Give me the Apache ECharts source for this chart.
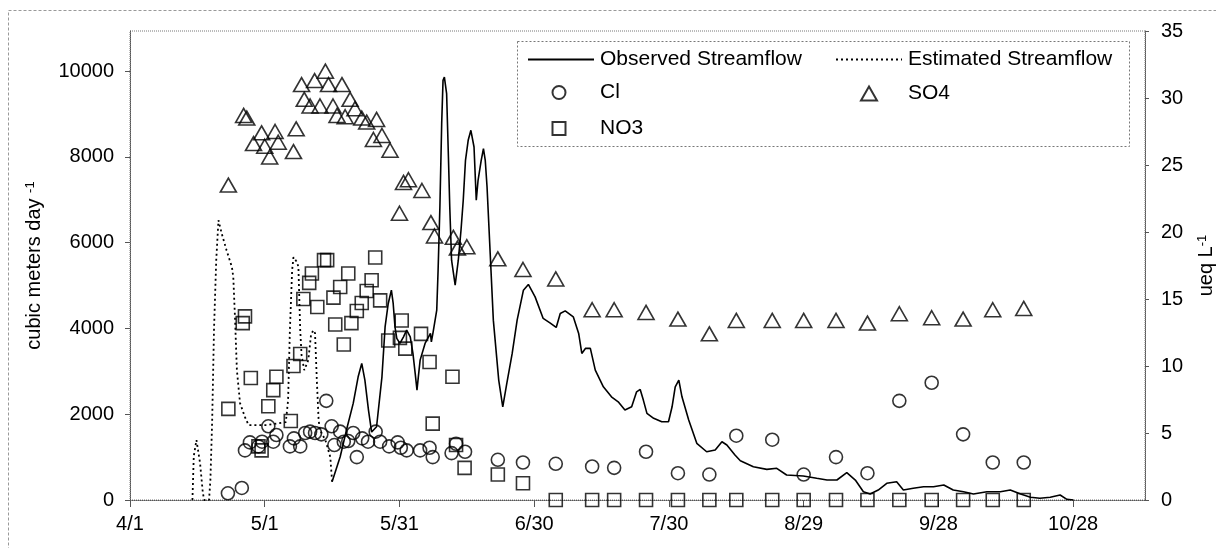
<!DOCTYPE html>
<html>
<head>
    <meta charset="utf-8">
    <title>Streamflow and solute concentrations</title>
    <script src="https://cdn.jsdelivr.net/npm/echarts@6/dist/echarts.min.js"></script>
    <style>
        body { margin: 0; background: #fff; }
        #main { width: 1216px; height: 548px; }
    </style>
</head>
<body>
<div id="main"></div>
<script type="text/javascript">
    // x values are days after 4/1
    var xTickLabels = ['4/1', '5/1', '5/31', '6/30', '7/30', '8/29', '9/28', '10/28'];
    var xTickDays = [0, 30, 60, 90, 120, 150, 180, 210];
    var leftTicks = [0, 2000, 4000, 6000, 8000, 10000];

    // streamflow, cubic meters per day
    var observedFlow = [
        [45.0, 426], [46.8, 1009], [48.2, 1631], [49.7, 2253], [50.8, 2873], [51.6, 3185], [52.3, 2796],
        [53.1, 2097], [53.8, 1584], [54.9, 1708], [56.1, 2873], [56.8, 4038], [57.5, 4583], [58.2, 4893],
        [58.6, 4583], [59.0, 4038], [59.4, 3768], [60.1, 3651], [60.9, 3805], [61.6, 3961], [62.4, 3805],
        [63.0, 3418], [63.5, 2952], [63.9, 2563], [64.2, 2873], [64.6, 3262], [65.7, 3651], [66.9, 3884],
        [67.1, 3688], [67.5, 3921], [68.3, 4427], [68.6, 5359], [69.0, 6834], [69.4, 8777], [69.7, 9786],
        [70.0, 9863], [70.5, 9476], [70.9, 7999], [71.2, 6834], [71.6, 5592], [72.4, 5010], [73.1, 5592],
        [73.7, 6291], [74.2, 6990], [74.7, 7922], [75.3, 8388], [75.9, 8621], [76.6, 8232], [77.1, 6990],
        [77.5, 7456], [78.2, 7922], [78.7, 8195], [79.1, 7922], [79.5, 7300], [80.2, 5748], [80.9, 4194],
        [82.1, 2796], [83.0, 2174], [83.9, 2719], [85.1, 3418], [86.2, 4194], [87.6, 4893], [88.7, 5026],
        [90.2, 4737], [92.0, 4234], [93.5, 4131], [94.9, 4024], [95.8, 4350], [96.9, 4411], [98.7, 4271],
        [99.9, 3884], [100.6, 3418], [101.4, 3535], [102.5, 3535], [103.6, 3029], [105.4, 2640], [107.2, 2407],
        [108.7, 2290], [110.2, 2097], [111.7, 2174], [112.8, 2523], [113.6, 2579], [114.3, 2330], [115.1, 2020],
        [116.6, 1904], [118.4, 1824], [119.9, 1824], [120.7, 2174], [121.4, 2640], [122.2, 2796], [122.9, 2407],
        [124.4, 1864], [126.2, 1321], [128.4, 1125], [130.3, 1165], [131.8, 1358], [132.9, 1282], [134.7, 1049],
        [135.9, 916], [138.8, 776], [141.8, 715], [144.0, 739], [146.2, 583], [149.9, 559], [152.9, 506],
        [155.2, 466], [157.4, 466], [159.6, 636], [161.5, 466], [163.3, 193], [164.8, 140], [166.6, 233],
        [168.5, 389], [170.7, 426], [172.2, 233], [174.4, 273], [176.7, 310], [178.9, 310], [181.2, 350],
        [183.3, 233], [185.6, 193], [187.8, 140], [190.8, 193], [193.8, 193], [196.0, 233], [198.3, 140],
        [200.5, 63], [202.6, 40], [204.9, 63], [207.1, 117], [208.6, 16], [210.1, 0]
    ];
    var estimatedFlow = [
        [13.9, 0], [14.2, 1025], [14.8, 1398], [15.6, 862], [16.2, 186], [16.5, 0], [17.6, 0], [17.9, 466],
        [18.3, 1864], [18.7, 3961], [19.2, 5592], [19.7, 6524], [20.4, 6221], [21.5, 5825], [22.7, 5429],
        [23.0, 5196], [23.4, 4194], [23.8, 3029], [24.5, 2260], [25.6, 1934], [26.4, 1748], [30.4, 1748],
        [34.7, 1817], [35.2, 2330], [35.6, 3961], [36.1, 5359], [36.4, 5662], [36.7, 5639], [37.2, 5545],
        [37.5, 5429], [37.9, 3961], [38.2, 3379], [38.8, 3029], [39.7, 3262], [40.3, 3845], [40.8, 3961],
        [41.2, 3891], [41.6, 2796], [42.0, 1864], [42.3, 1631], [43.5, 1398], [44.6, 1002], [45.0, 426]
    ];

    // concentrations, ueq per litre
    var cl = [
        [21.8, 0.5], [24.9, 0.9], [25.6, 3.7], [26.7, 4.3], [28.6, 4.0], [29.4, 4.35], [30.8, 5.5], [31.9, 4.35],
        [32.6, 4.85], [35.6, 4.0], [36.5, 4.6], [37.9, 4.0], [39.0, 5.0], [40.1, 5.1], [41.2, 5.0], [42.6, 4.9],
        [43.7, 7.4], [44.9, 5.5], [45.5, 4.1], [46.8, 5.1], [47.6, 4.35], [48.6, 4.4], [49.7, 5.0], [50.5, 3.2],
        [51.7, 4.6], [53.0, 4.35], [54.7, 5.1], [55.7, 4.35], [57.7, 4.0], [59.6, 4.3], [60.3, 3.9], [61.6, 3.7],
        [64.6, 3.7], [66.7, 3.9], [67.4, 3.2], [71.6, 3.5], [72.6, 4.2], [74.6, 3.6], [81.9, 3.0], [87.5, 2.8],
        [94.8, 2.7], [102.9, 2.5], [107.8, 2.4], [114.9, 3.6], [122.0, 2.0], [129.0, 1.9], [135.0, 4.8],
        [143.0, 4.5], [150.0, 1.9], [157.2, 3.2], [164.2, 2.0], [171.3, 7.4], [178.5, 8.75], [185.5, 4.9],
        [192.1, 2.8], [199.0, 2.8]
    ];
    var so4 = [
        [21.9, 23.5], [25.3, 28.7], [26.0, 28.5], [27.5, 26.6], [29.3, 27.4], [30.0, 26.4], [31.1, 25.6],
        [32.3, 27.5], [33.0, 26.7], [36.4, 26.0], [37.0, 27.7], [38.2, 31.0], [38.8, 29.9], [40.1, 29.4],
        [41.1, 31.3], [42.3, 29.4], [43.5, 32.0], [44.2, 31.0], [45.2, 29.4], [46.1, 28.7], [47.2, 31.0],
        [47.9, 28.6], [49.0, 29.9], [50.1, 29.2], [51.6, 28.5], [52.7, 28.2], [54.2, 26.9], [54.9, 28.4],
        [56.1, 27.2], [57.9, 26.1], [60.0, 21.4], [60.9, 23.7], [62.0, 23.9], [65.0, 23.1], [67.0, 20.7],
        [67.8, 19.7], [72.0, 19.6], [72.9, 18.8], [75.0, 18.9], [81.9, 18.0], [87.5, 17.2], [94.8, 16.5],
        [102.9, 14.2], [107.8, 14.2], [114.9, 14.0], [122.0, 13.5], [129.0, 12.4], [135.0, 13.4], [143.0, 13.4],
        [150.0, 13.4], [157.2, 13.4], [164.2, 13.2], [171.3, 13.9], [178.5, 13.6], [185.5, 13.5], [192.1, 14.2],
        [199.0, 14.3]
    ];
    var no3 = [
        [21.9, 6.8], [25.1, 13.2], [25.6, 13.7], [26.9, 9.1], [28.6, 4.0], [29.3, 3.7], [30.8, 7.0], [31.9, 8.2],
        [32.6, 9.2], [35.8, 5.9], [36.4, 10.0], [37.9, 10.9], [38.6, 15.0], [39.9, 16.2], [40.5, 16.9], [41.7, 14.4],
        [43.2, 17.9], [43.9, 17.9], [45.3, 15.1], [45.7, 13.1], [46.8, 15.9], [47.6, 11.6], [48.6, 16.9], [49.3, 13.2],
        [50.5, 14.1], [51.6, 14.7], [52.7, 15.6], [53.8, 16.4], [54.6, 18.1], [55.7, 14.9], [57.5, 11.9], [60.1, 12.1],
        [60.5, 13.4], [61.3, 11.3], [64.8, 12.4], [66.7, 10.3], [67.4, 5.7], [71.8, 9.2], [72.6, 4.1], [74.5, 2.4],
        [81.9, 1.9], [87.5, 1.25], [94.8, 0], [102.9, 0], [107.8, 0], [114.9, 0], [122.0, 0], [129.0, 0],
        [135.0, 0], [143.0, 0], [150.0, 0], [157.2, 0], [164.2, 0], [171.3, 0], [178.5, 0], [185.5, 0],
        [192.1, 0], [199.0, 0]
    ];

    var font = 'Liberation Sans, Arial, sans-serif';
    var myChart = echarts.init(document.getElementById('main'));

    var marker = {
        color: 'rgba(255,255,255,0)',
        borderColor: '#000',
        borderWidth: 1.6
    };

    // one legend per item so each sits where the original box has it
    function legendAt(name, left, top, w, h, textPad, hideSymbol) {
        var lg = {
            data: [name], left: left, top: top, padding: 0,
            itemWidth: w, itemHeight: h, itemGap: 0,
            selectedMode: false,
            textStyle: { fontSize: 21, color: '#000', fontFamily: font, padding: [0, 0, 0, textPad] }
        };
        if (hideSymbol) lg.itemStyle = { opacity: 0 };
        return lg;
    }

    var option = {
        animation: false,
        backgroundColor: '#fff',
        grid: {
            left: 130, right: 71, top: 31, bottom: 48, outerBoundsMode: 'none',
            show: true, borderColor: '#777', borderWidth: 1, borderType: 'dotted'
        },
        legend: [
            legendAt('Observed Streamflow', 527, 49, 66, 14, 1, true),
            legendAt('Estimated Streamflow', 835, 49, 66, 14, 1, true),
            legendAt('Cl', 551.5, 82, 13, 13, 29.5),
            legendAt('SO4', 860, 83, 16, 14, 26),
            legendAt('NO3', 551.5, 118, 13, 13, 29.5)
        ],
        graphic: [
            { type: 'rect', shape: { x: 8.5, y: 10.5, width: 1220, height: 560 }, style: { fill: 'none', stroke: '#999', lineDash: [3, 2] }, silent: true },
            { type: 'rect', shape: { x: 517.5, y: 41.5, width: 612, height: 105 }, style: { fill: 'none', stroke: '#777', lineDash: [2, 2] }, silent: true }
        ],
        xAxis: {
            type: 'value', min: 0, max: 226,
            axisLine: { lineStyle: { color: '#555', type: 'dotted' } },
            axisTick: { show: true, length: 7, customValues: xTickDays, lineStyle: { color: '#555' } },
            axisLabel: {
                customValues: xTickDays, margin: 14, fontSize: 20, color: '#000', fontFamily: font,
                formatter: function (v) { return xTickLabels[xTickDays.indexOf(v)] || ''; }
            },
            splitLine: { show: false }
        },
        yAxis: [{
            type: 'value', min: 0, max: 10937.5, position: 'left',
            name: 'cubic meters day {s|-1}', nameLocation: 'middle', nameGap: 86, nameRotate: 90,
            nameTextStyle: { fontSize: 20, color: '#000', fontFamily: font, rich: { s: { fontSize: 13, verticalAlign: 'top', fontFamily: font } } },
            axisLine: { show: true, lineStyle: { color: '#555', type: 'dotted' } },
            axisTick: { show: true, length: 5, customValues: leftTicks, lineStyle: { color: '#555' } },
            axisLabel: {
                customValues: leftTicks, margin: 16, fontSize: 20, color: '#000', fontFamily: font,
                formatter: function (v) { return String(v); }
            },
            splitLine: { show: false }
        }, {
            type: 'value', min: 0, max: 35, interval: 5, position: 'right',
            name: 'ueq L{s|-1}', nameLocation: 'middle', nameGap: 51, nameRotate: 90,
            nameTextStyle: { fontSize: 20, color: '#000', fontFamily: font, rich: { s: { fontSize: 13, verticalAlign: 'top', fontFamily: font } } },
            axisLine: { show: true, lineStyle: { color: '#555', type: 'dotted' } },
            axisTick: { show: true, length: 4, lineStyle: { color: '#555' } },
            axisLabel: { margin: 16, fontSize: 20, color: '#000', fontFamily: font },
            splitLine: { show: false }
        }],
        series: [{
            name: 'Observed Streamflow', type: 'line', yAxisIndex: 0, symbol: 'none',
            data: observedFlow, lineStyle: { color: '#000', width: 1.6 }, itemStyle: { color: '#000' }
        }, {
            name: 'Estimated Streamflow', type: 'line', yAxisIndex: 0, symbol: 'none',
            data: estimatedFlow, lineStyle: { color: '#000', width: 1.8, type: [2, 3] }, itemStyle: { color: '#000' }
        }, {
            name: 'Cl', type: 'scatter', yAxisIndex: 1, symbol: 'circle', symbolSize: 13,
            data: cl, itemStyle: marker
        }, {
            name: 'SO4', type: 'scatter', yAxisIndex: 1, symbol: 'triangle', symbolSize: [16, 14],
            data: so4, itemStyle: marker
        }, {
            name: 'NO3', type: 'scatter', yAxisIndex: 1, symbol: 'rect', symbolSize: 13,
            data: no3, itemStyle: marker
        }]
    };

    myChart.setOption(option);
</script>
</body>
</html>
